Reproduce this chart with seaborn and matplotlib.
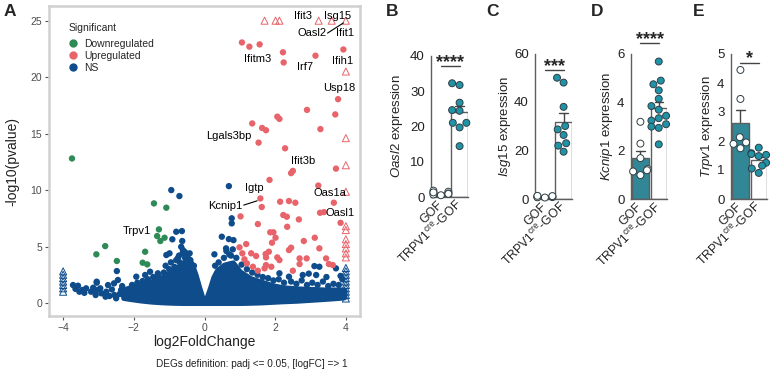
"""Volcano plot (A) plus four bar/scatter panels (B-E) of qPCR expression."""
import warnings

import matplotlib
matplotlib.use('Agg')
import matplotlib.pyplot as plt
import numpy as np
import pandas as pd
import seaborn as sns

warnings.filterwarnings('ignore')

# ---------------- A: volcano ----------------
down_x = [-3.75, -1.43, -1.08, -1.29, -1.34, -1.25, -1.13, -2.81, -3.06, -1.68, -2.48, -1.75, -1.62]
down_y = [12.8, 8.82, 8.44, 6.52, 5.93, 5.49, 5.78, 5.04, 4.31, 4.54, 3.72, 3.57, 3.42]

up_x = [1.06, 1.27, 1.56, 2.22, 2.24, 3.14, 3.93, 3.78, 2.90, 2.06, 2.12, 3.70, 1.35, 1.63, 1.74,
        3.28, 1.53, 2.28, 2.45, 2.50, 1.84, 3.72, 3.22, 1.58, 1.62, 2.14, 2.39, 2.57, 3.66, 1.02,
        2.23, 2.33, 2.67, 3.27, 3.38, 3.85, 1.51, 2.34, 1.86, 1.95, 2.01, 3.12, 0.99, 1.18, 1.91,
        2.81, 3.25, 1.07, 1.32, 1.73, 1.82, 2.39, 2.45, 1.13, 1.20, 1.46, 1.74, 2.06, 2.12, 2.69,
        2.89, 3.44, 1.37, 1.74, 1.89, 2.69, 3.52, 3.63, 1.70, 2.50, 1.51]
up_y = [23.07, 22.7, 22.9, 22.2, 21.3, 21.9, 22.45, 18.05, 17.1, 16.5, 16.3, 16.7, 15.9, 15.5, 15.3,
        15.4, 14.2, 13.7, 11.5, 11.7, 10.9, 11.9, 10.4, 9.26, 8.5, 8.97, 9.03, 8.88, 8.88, 7.67,
        7.79, 7.64, 7.4, 7.99, 8.05, 7.1, 6.99, 6.75, 6.26, 6.26, 5.78, 5.78, 4.93, 5.22, 5.34,
        5.49, 4.84, 4.4, 4.4, 4.34, 4.54, 4.69, 4.9, 3.87, 3.51, 4.16, 4.04, 4.04, 3.8, 3.95,
        3.95, 3.95, 3.21, 3.36, 3.21, 3.45, 3.45, 3.36, 3.07, 2.86, 2.86]

ns_x = [-0.94, -0.71, -0.80, -0.64, -0.91, -0.63, -0.66, -2.48, -3.05, -1.93, -1.68, -1.54, -1.32,
        -1.08, -0.99, -0.42, -0.61, 0.69, 0.77, 0.77, 0.49, 0.69, 0.82, 0.61, 0.80, 0.28, 2.12, 2.39,
        2.78, 3.16, 3.11, 3.25, 3.72,
        -3.72, -3.58, -3.46, -3.54, -3.35, -3.21, -3.06, -3.08, -2.92, -2.78, -2.80, -2.69, -2.55,
        -2.50, -2.40, -2.36, -2.29, -2.22, -2.17, -3.05, -2.73, -2.56, -2.45, -3.65, -3.40, -3.15,
        -2.95, -2.62, -2.33,
        1.05, 1.20, 1.35, 1.50, 1.65, 1.80, 1.95, 2.10, 2.25, 2.45, 2.60, 2.75, 2.90, 3.05, 3.20,
        3.35, 3.50, 3.65, 3.80, 3.90, 2.95, 3.45, 3.85, 0.90, 0.70, 0.55, 0.40, 0.30, 0.62, 0.75,
        -0.50, -0.55, -0.70, -0.85, -1.00, -1.15, -1.30, -1.45, -1.60, -1.75, -1.90, -2.05, -0.40,
        -0.30, -0.62, -0.80, -0.72, -1.10, -0.95, -0.75, -0.55, -0.50]
ns_y = [10.0, 9.47, 6.31, 6.37, 5.64, 5.49, 4.98, 2.83, 1.80, 2.33, 2.48, 2.77, 2.63,
        4.25, 4.40, 4.40, 4.69, 10.35, 7.5, 7.05, 5.87, 5.66, 5.57, 4.84, 4.75, 4.31, 2.63, 2.33,
        2.48, 2.48, 3.27, 3.21, 3.07,
        1.59, 1.53, 1.15, 1.0, 1.3, 1.0, 1.15, 0.71, 0.86, 1.0, 0.56, 0.62, 0.71,
        0.42, 0.8, 1.15, 0.71, 0.5, 0.91, 1.89, 1.59, 1.74, 2.04, 1.25, 0.9, 1.35,
        1.3, 1.2, 1.5,
        3.4, 3.0, 2.7, 2.5, 2.3, 2.2, 2.0, 2.1, 1.8, 1.9, 1.7, 2.0, 1.6, 1.8, 1.6,
        1.9, 1.5, 1.7, 1.6, 2.1, 2.6, 2.3, 2.4, 4.0, 4.3, 4.0, 3.6, 3.3, 4.6, 4.2,
        4.3, 4.0, 3.6, 3.2, 3.0, 2.7, 2.4, 2.3, 2.1, 1.95, 1.8, 1.6, 3.8,
        3.3, 4.4, 3.8, 4.2, 3.3, 3.6, 4.0, 4.5, 3.9]

# genes beyond the axis limits, shown as open triangles on the edge
up_edge_x = [1.70, 2.01, 2.12, 3.23, 3.60, 4.0, 4.0, 4.0, 4.0, 4.0, 4.0, 4.0, 4.0, 4.0, 4.0, 4.0, 4.0]
up_edge_y = [25.0, 25.0, 25.0, 25.0, 25.0, 25.0, 20.5, 14.6, 12.2, 9.85, 6.8, 6.46, 5.64, 5.22,
             4.84, 4.4, 4.04]
ns_edge_x = [-4.0, -4.0, -4.0, -4.0, -4.0, -4.0, -4.0, 4.0, 4.0, 4.0, 4.0, 4.0, 4.0, 4.0, 4.0, 4.0, 4.0]
ns_edge_y = [2.8, 2.5, 2.2, 1.9, 1.6, 1.3, 1.0, 3.1, 2.8, 2.5, 2.2, 1.9, 1.6, 1.3, 1.0, 0.7, 0.4]

# outline of the dense, fully overlapping NS cloud
cloud_x = [-2.3, -2.1, -1.8, -1.5, -1.2, -1.0, -0.8, -0.6, -0.45, -0.35, -0.25, -0.15, -0.06, 0.0,
           0.06, 0.15, 0.25, 0.35, 0.55, 0.8, 1.0, 1.3, 1.6, 1.9, 2.2, 2.6, 3.0, 3.4, 3.8, 3.95]
cloud_top = [1.2, 1.4, 1.7, 1.9, 2.3, 2.7, 3.1, 3.6, 4.0, 3.4, 2.5, 1.4, 0.5, 0.2,
             0.5, 1.3, 2.3, 2.9, 3.4, 3.6, 2.8, 2.2, 1.9, 1.6, 1.4, 1.3, 1.25, 1.2, 1.2, 1.2]
cloud_bottom = [0.45, 0.35, 0.22, 0.12, 0.06, 0.03, 0.01, 0, 0, 0, 0, 0, 0, 0,
                0, 0, 0, 0, 0, 0, 0, 0.02, 0.05, 0.1, 0.15, 0.2, 0.28, 0.36, 0.45, 0.5]

# ---------------- B-E: expression ----------------
GROUPS = ['GOF', 'TRPV1$^{\\mathrm{cre}}$-GOF']
oasl2_gof = [1.5, 1.8, 1.2, 1.0, 0.9, 0.7, 1.3, 0.5]
oasl2_cre = [32.2, 31.7, 26.7, 24.6, 24.4, 21.0, 21.0, 19.7, 14.4]
isg15_gof = [0.8, 1.0, 1.2, 0.6, 0.9, 1.1, 0.7, 1.3]
isg15_cre = [50.0, 48.0, 38.0, 30.1, 28.7, 26.4, 23.0, 22.0, 19.5]
kcnip1_gof = [3.2, 2.3, 1.25, 1.15, 1.2, 1.0, 1.7]
kcnip1_cre = [5.69, 4.9, 4.75, 4.5, 4.15, 3.85, 3.7, 3.45, 3.35, 3.25, 3.1, 2.95, 2.27, 3.0]
trpv1_gof = [4.45, 3.45, 2.13, 1.95, 1.9, 1.75]
trpv1_cre = [1.77, 1.58, 1.55, 1.52, 1.48, 1.25, 1.15, 1.05, 0.9]

GREEN = '#2e8b57'
RED = '#e8646b'
BLUE = '#0f4c8c'
TEAL = '#2093a7'
AXC = '#5e5e5e'
W, H = 773, 377


def px_axes(fig, left, top, right, bottom):
    return fig.add_axes([left / W, 1 - bottom / H, (right - left) / W, (bottom - top) / H])


def bar_panel(ax, gof, cre, ymax, step, gene, stars, star_y, label_off):
    df = pd.DataFrame({'group': [GROUPS[0]] * len(gof) + [GROUPS[1]] * len(cre),
                       'value': gof + cre})
    sns.barplot(data=df, x='group', y='value', order=GROUPS, hue='group', hue_order=GROUPS,
                palette={GROUPS[0]: TEAL, GROUPS[1]: 'white'}, legend=False, width=0.9,
                errorbar=('se', 1), capsize=0.45, edgecolor=AXC, linewidth=1.0,
                err_kws={'color': '#444444', 'linewidth': 1.0, 'zorder': 0.5}, ax=ax)
    sns.swarmplot(data=df, x='group', y='value', order=GROUPS, hue='group', hue_order=GROUPS,
                  palette={GROUPS[0]: 'white', GROUPS[1]: TEAL}, legend=False, size=5.0,
                  edgecolor='#2f3f46', linewidth=0.7, ax=ax)
    for c in ax.collections:
        c.set_zorder(3)
        c.set_clip_on(False)
    ax.set_xlim(-0.53, 1.45)
    ax.set_ylim(0, ymax)
    ax.set_yticks(np.arange(0, ymax + step / 2, step))
    ax.set_xlabel('')
    ax.set_ylabel(f'$\\it{{{gene}}}$ expression', fontsize=9.5, color='#222222')
    w_px = ax.get_position().width * W
    ax.yaxis.set_label_coords(-label_off / w_px, 0.5)
    ax.yaxis.label.set_verticalalignment('center')
    for s in ('top', 'right'):
        ax.spines[s].set_visible(False)
    for s in ('left', 'bottom'):
        ax.spines[s].set_color(AXC)
        ax.spines[s].set_linewidth(1.0)
    ax.tick_params(axis='y', length=3, width=1.0, color=AXC, labelsize=9.5, pad=1.5,
                   labelcolor='#222222')
    ax.tick_params(axis='x', length=0, labelsize=8.8, pad=4, labelcolor='#222222')
    plt.setp(ax.get_xticklabels(), rotation=45, ha='right', va='center',
             rotation_mode='anchor')
    ax.plot([0, 1], [star_y, star_y], color='#444444', lw=1.0, clip_on=False)
    ax.annotate(stars, xy=(0.5, star_y), xytext=(0, -3.5), textcoords='offset points',
                ha='center', va='bottom', fontsize=13, fontweight='bold',
                annotation_clip=False)


def main():
    sns.set_theme(style='white')
    plt.rcParams['font.family'] = ['Liberation Sans', 'DejaVu Sans']
    plt.rcParams['mathtext.fontset'] = 'custom'
    plt.rcParams['mathtext.rm'] = 'Liberation Sans'
    plt.rcParams['mathtext.it'] = 'Liberation Sans:italic'

    fig = plt.figure(figsize=(W / 100, H / 100), dpi=100)

    # --- A ---
    ax = px_axes(fig, 49, 6, 360, 316)
    vol = pd.DataFrame({
        'log2FoldChange': ns_x + down_x + up_x,
        'nlp': ns_y + down_y + up_y,
        'Significant': ['NS'] * len(ns_x) + ['Downregulated'] * len(down_x)
                       + ['Upregulated'] * len(up_x),
    })
    ax.fill_between(cloud_x, cloud_bottom, cloud_top, color=BLUE, edgecolor=BLUE, lw=3.6,
                    zorder=1)
    sns.scatterplot(data=vol, x='log2FoldChange', y='nlp', hue='Significant',
                    hue_order=['Downregulated', 'Upregulated', 'NS'],
                    palette={'Downregulated': GREEN, 'Upregulated': RED, 'NS': BLUE},
                    s=21, linewidth=0, ax=ax, zorder=2)
    sns.scatterplot(x=ns_edge_x, y=ns_edge_y, marker='^', s=26, color=BLUE, facecolor='none',
                    edgecolor=BLUE, linewidth=0.7, ax=ax, legend=False, zorder=2)
    sns.scatterplot(x=up_edge_x, y=up_edge_y, marker='^', s=26, color=RED, facecolor='none',
                    edgecolor=RED, linewidth=0.7, ax=ax, legend=False, zorder=2)
    for c in ax.collections[-2:]:
        c.set_facecolor('none')

    sns.move_legend(ax, 'upper left', bbox_to_anchor=(0.045, 0.962), frameon=False,
                    title='Significant', fontsize=7.5, title_fontsize=7.5,
                    labelspacing=0.2, handletextpad=0.5, handlelength=1.0, borderpad=0.0)
    leg = ax.get_legend()
    leg._legend_box.align = 'left'
    leg._legend_box.sep = 4
    for h in leg.legend_handles:
        if hasattr(h, 'set_markersize'):
            h.set_markersize(6)
        elif hasattr(h, 'set_sizes'):
            h.set_sizes([30])

    labels = [('Ifit3', 2.78, 25.4), ('Isg15', 3.76, 25.4), ('Oasl2', 3.05, 23.87),
              ('Ifit1', 3.98, 23.87), ('Ifitm3', 1.49, 21.65), ('Irf7', 2.85, 20.9),
              ('Ifih1', 3.90, 21.44), ('Usp18', 3.80, 19.0), ('Lgals3bp', 0.69, 14.78),
              ('Ifit3b', 2.80, 12.57), ('Igtp', 1.41, 10.15), ('Kcnip1', 0.59, 8.61),
              ('Oas1a', 3.56, 9.71), ('Oasl1', 3.84, 7.94), ('Trpv1', -1.92, 6.4)]
    for name, tx, ty in labels:
        ax.text(tx, ty, name, ha='center', va='center', fontsize=8, color='black', zorder=4)
    ax.plot([3.48, 3.93], [23.9, 24.8], color='black', lw=0.8, zorder=4)
    ax.plot([1.11, 1.49], [8.67, 9.05], color='black', lw=0.8, zorder=4)

    ax.set_xlim(-4.4, 4.4)
    ax.set_ylim(-1.15, 26.3)
    ax.set_xticks([-4, -2, 0, 2, 4])
    ax.set_yticks([0, 5, 10, 15, 20, 25])
    for s in ax.spines.values():
        s.set_color('#d0d0d0')
        s.set_linewidth(1.8)
    ax.tick_params(length=3, width=0.8, color='#555555', labelsize=7.5, labelcolor='#4d4d4d',
                   pad=2, bottom=True, left=True)
    ax.set_xlabel('log2FoldChange', fontsize=10, color='#222222')
    ax.set_ylabel('-log10(pvalue)', fontsize=10, color='#222222')
    ax.xaxis.set_label_coords(0.5, -0.062)
    ax.yaxis.set_label_coords(-37 / 311, 0.5)
    ax.yaxis.label.set_verticalalignment('center')
    fig.text(251.5 / W, 1 - 364 / H, 'DEGs definition: padj <= 0.05, [logFC] => 1',
             ha='center', va='center', fontsize=7.2, color='#222222')

    # --- B-E ---
    axB = px_axes(fig, 431, 55.7, 468, 197)
    bar_panel(axB, oasl2_gof, oasl2_cre, 40, 10, 'Oasl2', '****', 37.1, 34)
    axC = px_axes(fig, 535, 53.5, 572, 199)
    bar_panel(axC, isg15_gof, isg15_cre, 60, 20, 'Isg15', '***', 53.2, 30)
    axD = px_axes(fig, 630.7, 54, 667, 199.3)
    bar_panel(axD, kcnip1_gof, kcnip1_cre, 6, 2, 'Kcnip1', '****', 6.45, 24)
    axE = px_axes(fig, 730.7, 54, 767, 199)
    bar_panel(axE, trpv1_gof, trpv1_cre, 5, 1, 'Trpv1', '*', 4.7, 24)

    for letter, x, y in [('A', 10, 12), ('B', 392, 12), ('C', 493, 11), ('D', 597, 11),
                         ('E', 699, 11)]:
        fig.text(x / W, 1 - y / H, letter, fontsize=12.5, fontweight='bold',
                 ha='center', va='center')

    fig.savefig('out.png', dpi=100)


if __name__ == '__main__':
    main()
